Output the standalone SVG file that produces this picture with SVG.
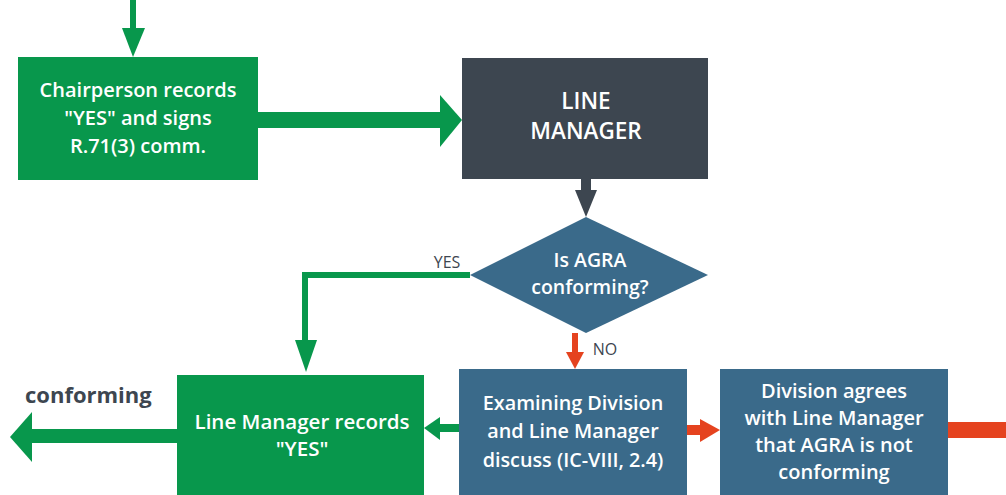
<svg xmlns="http://www.w3.org/2000/svg" width="1006" height="495" viewBox="0 0 1006 495">
<style>
.t{font-family:"Open Sans","Noto Sans",sans-serif;font-weight:600;fill:#ffffff;text-anchor:middle}
.g{fill:#08974c}
.b{fill:#3a6a8a}
.d{fill:#3d4650}
.r{fill:#e5431f}
.lbl{font-family:"Open Sans","Noto Sans",sans-serif;fill:#3d4650}
</style>
<rect width="1006" height="495" fill="#ffffff"/>
<g id="connectors">
  <rect class="g" x="130" y="0" width="6" height="30"/>
  <polygon class="g" points="122,28 145,28 133,57"/>
  <rect class="g" x="258" y="112" width="184" height="16"/>
  <polygon class="g" points="440,95 462,120 440,147"/>
  <rect class="d" x="581" y="179" width="10" height="12"/>
  <polygon class="d" points="575,190 597,190 586,217"/>
  <polyline points="470,275 305,275 305,342" fill="none" stroke="#08974c" stroke-width="6"/>
  <polygon class="g" points="295,340 317,340 306,372"/>
  <text class="lbl" x="447" y="268" font-size="16" text-anchor="middle">YES</text>
  <rect class="r" x="572" y="333" width="6" height="20"/>
  <polygon class="r" points="566,352 584,352 575,369"/>
  <text class="lbl" x="605" y="355" font-size="16" text-anchor="middle">NO</text>
  <rect class="g" x="438" y="424" width="21" height="8"/>
  <polygon class="g" points="440,417 424,428 440,440"/>
  <rect class="r" x="687" y="425" width="15" height="10"/>
  <polygon class="r" points="700,419 720,430 700,442"/>
  <rect class="r" x="948" y="422" width="58" height="16"/>
  <rect class="g" x="30" y="429" width="147" height="14"/>
  <polygon class="g" points="32,412 10,437 32,462"/>
  <text class="lbl" x="25" y="403" font-size="22" font-weight="700">conforming</text>
</g>
<g id="chairperson">
  <rect class="g" x="18" y="57" width="240" height="123"/>
  <text class="t" font-size="20"><tspan x="138" y="97">Chairperson records</tspan><tspan x="138" y="125">"YES" and signs</tspan><tspan x="138" y="153">R.71(3) comm.</tspan></text>
</g>
<g id="line-manager">
  <rect class="d" x="462" y="58" width="246" height="121"/>
  <text class="t" font-size="22.5"><tspan x="586" y="109">LINE</tspan><tspan x="586" y="139">MANAGER</tspan></text>
</g>
<g id="decision">
  <polygon class="b" points="586,217 708,275 586,333 470,275"/>
  <text class="t" font-size="19.5"><tspan x="590" y="267">Is AGRA</tspan><tspan x="590" y="294">conforming?</tspan></text>
</g>
<g id="lm-records">
  <rect class="g" x="177" y="375" width="247" height="125"/>
  <text class="t" font-size="20.5"><tspan x="302" y="429">Line Manager records</tspan><tspan x="302" y="456">"YES"</tspan></text>
</g>
<g id="examining">
  <rect class="b" x="459" y="369" width="228" height="126"/>
  <text class="t" font-size="19.8"><tspan x="573" y="410">Examining Division</tspan><tspan x="573" y="438">and Line Manager</tspan><tspan x="573" y="467">discuss (IC-VIII, 2.4)</tspan></text>
</g>
<g id="division-agrees">
  <rect class="b" x="720" y="369" width="228" height="126"/>
  <text class="t" font-size="20"><tspan x="834" y="398">Division agrees</tspan><tspan x="834" y="425">with Line Manager</tspan><tspan x="834" y="452">that AGRA is not</tspan><tspan x="834" y="479">conforming</tspan></text>
</g>
</svg>
